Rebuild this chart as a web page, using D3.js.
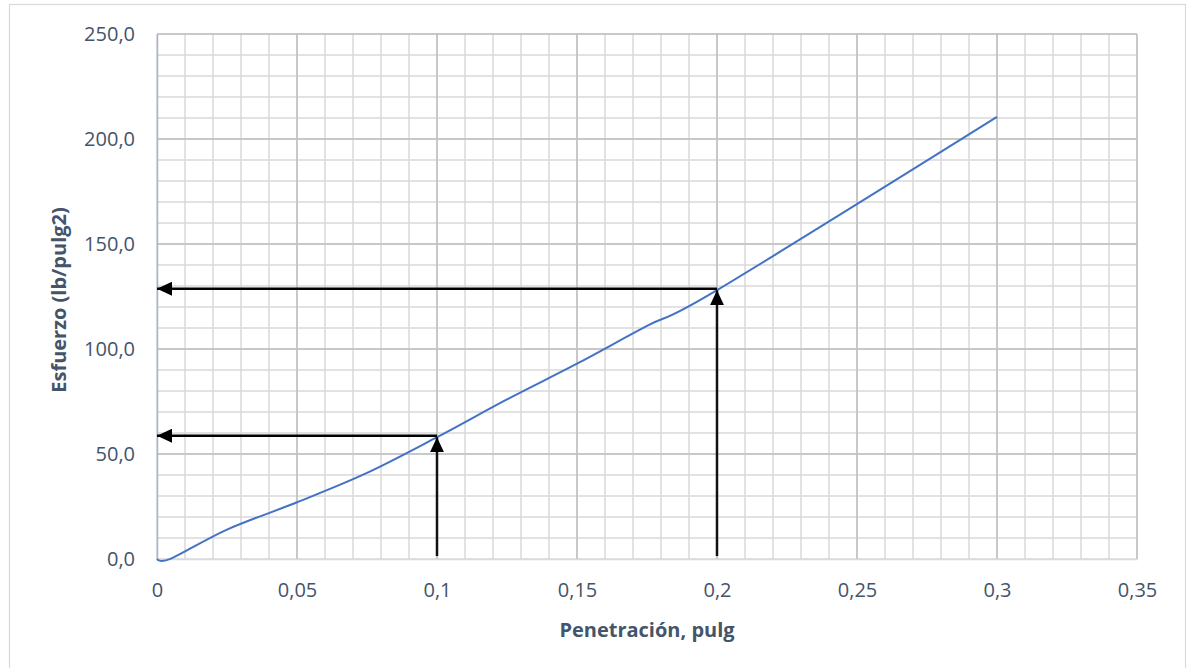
<!DOCTYPE html>
<html>
<head>
<meta charset="utf-8">
<script src="https://cdn.jsdelivr.net/npm/d3@7"></script>
<style>
  html, body { margin: 0; padding: 0; background: #fff; }
  svg { display: block; }
  text { font-family: "Open Sans", "Noto Sans", sans-serif; }
</style>
</head>
<body>
<svg id="chart" width="1188" height="668"></svg>
<script>
// Curva esfuerzo–penetración
const penetracion = [0, 0.005, 0.025, 0.05, 0.075, 0.1, 0.125, 0.15, 0.175, 0.2, 0.3];
const esfuerzo    = [0, 0.2, 14, 27, 41, 58, 76, 93, 111, 128, 210.5];

// Lecturas a 0,1 y 0,2 pulg
const lecturaPen = [0.1, 0.2];
const lecturaEsf = [58, 128];

const xTicks = [0, 0.05, 0.1, 0.15, 0.2, 0.25, 0.3, 0.35];
const yTicks = [0, 50, 100, 150, 200, 250];
const xTituloEje = "Penetración, pulg";
const yTituloEje = "Esfuerzo (lb/pulg2)";

const svg = d3.select("#chart");
const plot = { left: 157, right: 1137, top: 34, bottom: 559 };

const x = d3.scaleLinear().domain([0, 0.35]).range([plot.left, plot.right]);
const y = d3.scaleLinear().domain([0, 250]).range([plot.bottom, plot.top]);

const fmt = v => String(v).replace(".", ",");
const fmtY = v => v.toFixed(1).replace(".", ",");
const textColor = "#44546A";

// Chart frame
svg.append("rect")
  .attr("x", 9.5).attr("y", 4.5)
  .attr("width", 1176).attr("height", 700)
  .attr("fill", "#fff").attr("stroke", "#D9D9D9").attr("stroke-width", 1.2);

const grid = svg.append("g");

// Minor grid
const xMinor = d3.range(0, 0.3501, 0.01).map(v => +v.toFixed(3));
const yMinor = d3.range(0, 250.01, 10);
grid.selectAll(".xm").data(xMinor).join("line")
  .attr("x1", d => x(d)).attr("x2", d => x(d))
  .attr("y1", plot.top).attr("y2", plot.bottom)
  .attr("stroke", "#D9D9D9").attr("stroke-width", 1.5);
grid.selectAll(".ym").data(yMinor).join("line")
  .attr("x1", plot.left).attr("x2", plot.right)
  .attr("y1", d => y(d)).attr("y2", d => y(d))
  .attr("stroke", "#D9D9D9").attr("stroke-width", 1.5);

// Major grid
grid.selectAll(".xM").data(xTicks.slice(1)).join("line")
  .attr("x1", d => x(d)).attr("x2", d => x(d))
  .attr("y1", plot.top).attr("y2", plot.bottom)
  .attr("stroke", "#BFBFBF").attr("stroke-width", 1.5);
grid.selectAll(".yM").data(yTicks.slice(1)).join("line")
  .attr("x1", plot.left).attr("x2", plot.right)
  .attr("y1", d => y(d)).attr("y2", d => y(d))
  .attr("stroke", "#BFBFBF").attr("stroke-width", 1.5);

// Axes
const xAxis = d3.axisBottom(x).tickValues(xTicks).tickFormat(fmt).tickSize(0).tickPadding(24);
const yAxis = d3.axisLeft(y).tickValues(yTicks).tickFormat(fmtY).tickSize(0).tickPadding(22);

const gx = svg.append("g").attr("transform", `translate(0,${plot.bottom})`).call(xAxis);
gx.select(".domain").attr("stroke", "#D6DCE5").attr("stroke-width", 1.5);
gx.selectAll("text").attr("fill", textColor).attr("font-size", 20);

const gy = svg.append("g").attr("transform", `translate(${plot.left},0)`).call(yAxis);
gy.select(".domain").attr("stroke", "#A9B6CA").attr("stroke-width", 1.5);
gy.selectAll("text").attr("fill", textColor).attr("font-size", 20);

// Axis titles
svg.append("text")
  .attr("x", (plot.left + plot.right) / 2).attr("y", 637)
  .attr("text-anchor", "middle")
  .attr("fill", textColor).attr("font-size", 20).attr("font-weight", "bold")
  .text(xTituloEje);

svg.append("text")
  .attr("transform", `translate(66,300) rotate(-90)`)
  .attr("text-anchor", "middle")
  .attr("fill", textColor).attr("font-size", 20).attr("font-weight", "bold")
  .text(yTituloEje);

// Curve (smoothed like a spreadsheet's smooth line)
const puntos = penetracion.map((p, i) => [p, esfuerzo[i]]);
const linea = d3.line()
  .x(d => x(d[0])).y(d => y(d[1]))
  .curve(d3.curveCardinal.tension(0));
svg.append("path")
  .datum(puntos)
  .attr("d", linea)
  .attr("fill", "none").attr("stroke", "#4472C4").attr("stroke-width", 2);

// Reading arrows
const defs = svg.append("defs");
defs.append("marker")
  .attr("id", "punta")
  .attr("viewBox", "0 0 15 14")
  .attr("refX", 15).attr("refY", 7)
  .attr("markerWidth", 15).attr("markerHeight", 14)
  .attr("markerUnits", "userSpaceOnUse")
  .attr("orient", "auto")
  .append("path").attr("d", "M0,0 L15,7 L0,14 Z").attr("fill", "#000");

const lecturas = lecturaPen.map((p, i) => ({ p, e: lecturaEsf[i] }));
const flechas = svg.append("g");
// vertical: from the axis up to the curve
flechas.selectAll(".v").data(lecturas).join("line")
  .attr("x1", d => x(d.p)).attr("x2", d => x(d.p))
  .attr("y1", y(0) - 3).attr("y2", d => y(d.e))
  .attr("stroke", "#111").attr("stroke-width", 2.5)
  .attr("marker-end", "url(#punta)");
// horizontal: from the curve back to the stress axis
flechas.selectAll(".h").data(lecturas).join("line")
  .attr("x1", d => x(d.p)).attr("x2", x(0))
  .attr("y1", d => y(d.e) - 1.5).attr("y2", d => y(d.e) - 1.5)
  .attr("stroke", "#000").attr("stroke-width", 2.5)
  .attr("marker-end", "url(#punta)");
</script>
</body>
</html>
